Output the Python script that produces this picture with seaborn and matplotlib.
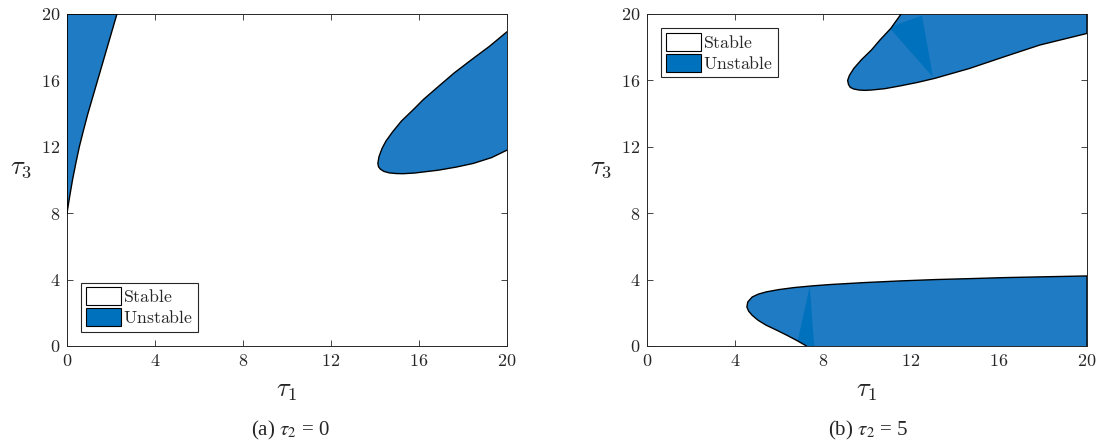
import numpy as np
import pandas as pd
import matplotlib
matplotlib.use("Agg")
import matplotlib.pyplot as plt
import seaborn as sns
from matplotlib.patches import Patch, Polygon

# ---- data (tau1, tau3 boundary points) ----
# panel (a): tau2 = 0
a1_t1 = [0.0, 0.0, 2.27, 2.05, 1.83, 1.61, 1.39, 1.17, 0.95, 0.75, 0.56, 0.4, 0.25, 0.12, 0.0]
a1_t3 = [8.0, 20.0, 20.0, 19.0, 18.0, 17.0, 16.0, 15.0, 14.0, 13.0, 12.0, 11.0, 10.0, 9.0, 8.0]
a2_t1 = [20.0, 19.2, 18.47, 17.6, 16.87, 16.2, 15.75, 15.2, 14.8, 14.5, 14.32, 14.18, 14.13,
         14.16, 14.24, 14.4, 14.64, 14.95, 15.28, 15.8, 16.87, 17.7, 18.47, 19.3, 20.0]
a2_t3 = [18.93, 18.05, 17.33, 16.45, 15.62, 14.85, 14.25, 13.55, 12.9, 12.35, 11.9, 11.4, 11.0,
         10.8, 10.66, 10.52, 10.43, 10.39, 10.38, 10.42, 10.59, 10.78, 11.0, 11.35, 11.8]
# panel (b): tau2 = 5
b1_t1 = [11.55, 11.08, 10.6, 10.2, 9.75, 9.4, 9.2, 9.12, 9.16, 9.24, 9.4, 9.64, 9.9, 10.2,
         10.8, 11.47, 12.3, 13.07, 14.66, 16.25, 17.85, 20.0, 20.0]
b1_t3 = [20.0, 19.13, 18.45, 17.83, 17.25, 16.72, 16.3, 16.0, 15.75, 15.58, 15.48, 15.42, 15.4,
         15.42, 15.5, 15.66, 15.88, 16.12, 16.72, 17.43, 18.13, 18.83, 20.0]
b1_wedge_t1 = [11.0, 12.5, 13.0]
b1_wedge_t3 = [19.2, 19.9, 16.2]
b2_t1 = [7.25, 6.8, 6.37, 5.9, 5.42, 5.05, 4.78, 4.62, 4.54, 4.58, 4.78, 5.05, 5.42, 6.0,
         6.69, 7.5, 8.29, 9.88, 11.5, 13.07, 14.7, 16.25, 18.1, 20.0, 20.0]
b2_t3 = [0.0, 0.34, 0.64, 0.95, 1.25, 1.55, 1.85, 2.1, 2.35, 2.65, 2.95, 3.12, 3.26, 3.4,
         3.52, 3.62, 3.70, 3.82, 3.92, 4.0, 4.06, 4.12, 4.17, 4.22, 0.0]
b2_wedge_t1 = [7.4, 6.8, 7.6]
b2_wedge_t3 = [3.6, 0.0, 0.0]

ticks = [0, 4, 8, 12, 16, 20]
legend_labels = ["Stable", "Unstable"]
captions = [r"(a) $\tau_2$ = 0", r"(b) $\tau_2$ = 5"]

FILL = "#1f7cc4"
DARK = "#0071bc"
EDGE = "#000000"
AXC = "#262626"

sns.set_theme(style="white")
plt.rcParams["font.family"] = ["Liberation Serif", "DejaVu Serif"]
plt.rcParams["mathtext.fontset"] = "cm"

W, H = 1099, 445
fig = plt.figure(figsize=(W / 100, H / 100), dpi=100)
axA = fig.add_axes([67 / W, (H - 346) / H, 440 / W, 332 / H])
axB = fig.add_axes([647 / W, (H - 346) / H, 440 / W, 332 / H])


def draw_region(ax, xs, ys, wx=None, wy=None):
    region = ax.fill(xs, ys, color=FILL, linewidth=0, zorder=2)[0]
    if wx is not None:
        wedge = ax.fill(wx, wy, color=DARK, linewidth=0, zorder=2.5)[0]
        wedge.set_clip_path(region)
    df = pd.DataFrame({"x": xs, "y": ys})
    sns.lineplot(data=df, x="x", y="y", sort=False, estimator=None,
                 color=EDGE, linewidth=1.0, ax=ax, zorder=3)


draw_region(axA, a1_t1, a1_t3)
draw_region(axA, a2_t1, a2_t3)
draw_region(axB, b1_t1, b1_t3, b1_wedge_t1, b1_wedge_t3)
draw_region(axB, b2_t1, b2_t3, b2_wedge_t1, b2_wedge_t3)

handles = [Patch(facecolor="white", edgecolor="black", linewidth=0.8),
           Patch(facecolor="#0072BD", edgecolor="black", linewidth=0.8)]
labels_tex = [r"$\mathrm{" + l + "}$" for l in legend_labels]

for ax, loc in [(axA, "lower left"), (axB, "upper left")]:
    ax.set_xlim(0, 20)
    ax.set_ylim(0, 20)
    ax.set_xticks(ticks)
    ax.set_yticks(ticks)
    ax.set_xticklabels([f"${t}$" for t in ticks], fontsize=13)
    ax.set_yticklabels([f"${t}$" for t in ticks], fontsize=13)
    ax.tick_params(direction="in", length=4, width=0.6, color=AXC,
                   top=True, right=True, bottom=True, left=True, pad=5,
                   labelcolor=AXC)
    for s in ax.spines.values():
        s.set_visible(True)
        s.set_color(AXC)
        s.set_linewidth(0.7)
    ax.set_xlabel(r"$\tau_1$", fontsize=19, labelpad=8, color=AXC)
    ax.set_ylabel(r"$\tau_3$", fontsize=19, rotation=0, color=AXC)
    ax.yaxis.set_label_coords(-0.105, 0.5)
    leg = ax.legend(handles, labels_tex, loc=loc, fontsize=12.8, frameon=True,
                    fancybox=False, edgecolor=AXC, framealpha=1,
                    handlelength=2.0, handleheight=1.2, handletextpad=0.12,
                    borderpad=0.25, labelspacing=0.12, borderaxespad=0.8)
    leg.get_frame().set_linewidth(0.8)
    ax.set_facecolor("white")

fig.text(290 / W, 1 - 430 / H, captions[0], ha="center", va="center",
         fontsize=15, math_fontfamily="stix")
fig.text(868 / W, 1 - 430 / H, captions[1], ha="center", va="center",
         fontsize=15, math_fontfamily="stix")

fig.savefig("out.png", dpi=100, facecolor="white")
